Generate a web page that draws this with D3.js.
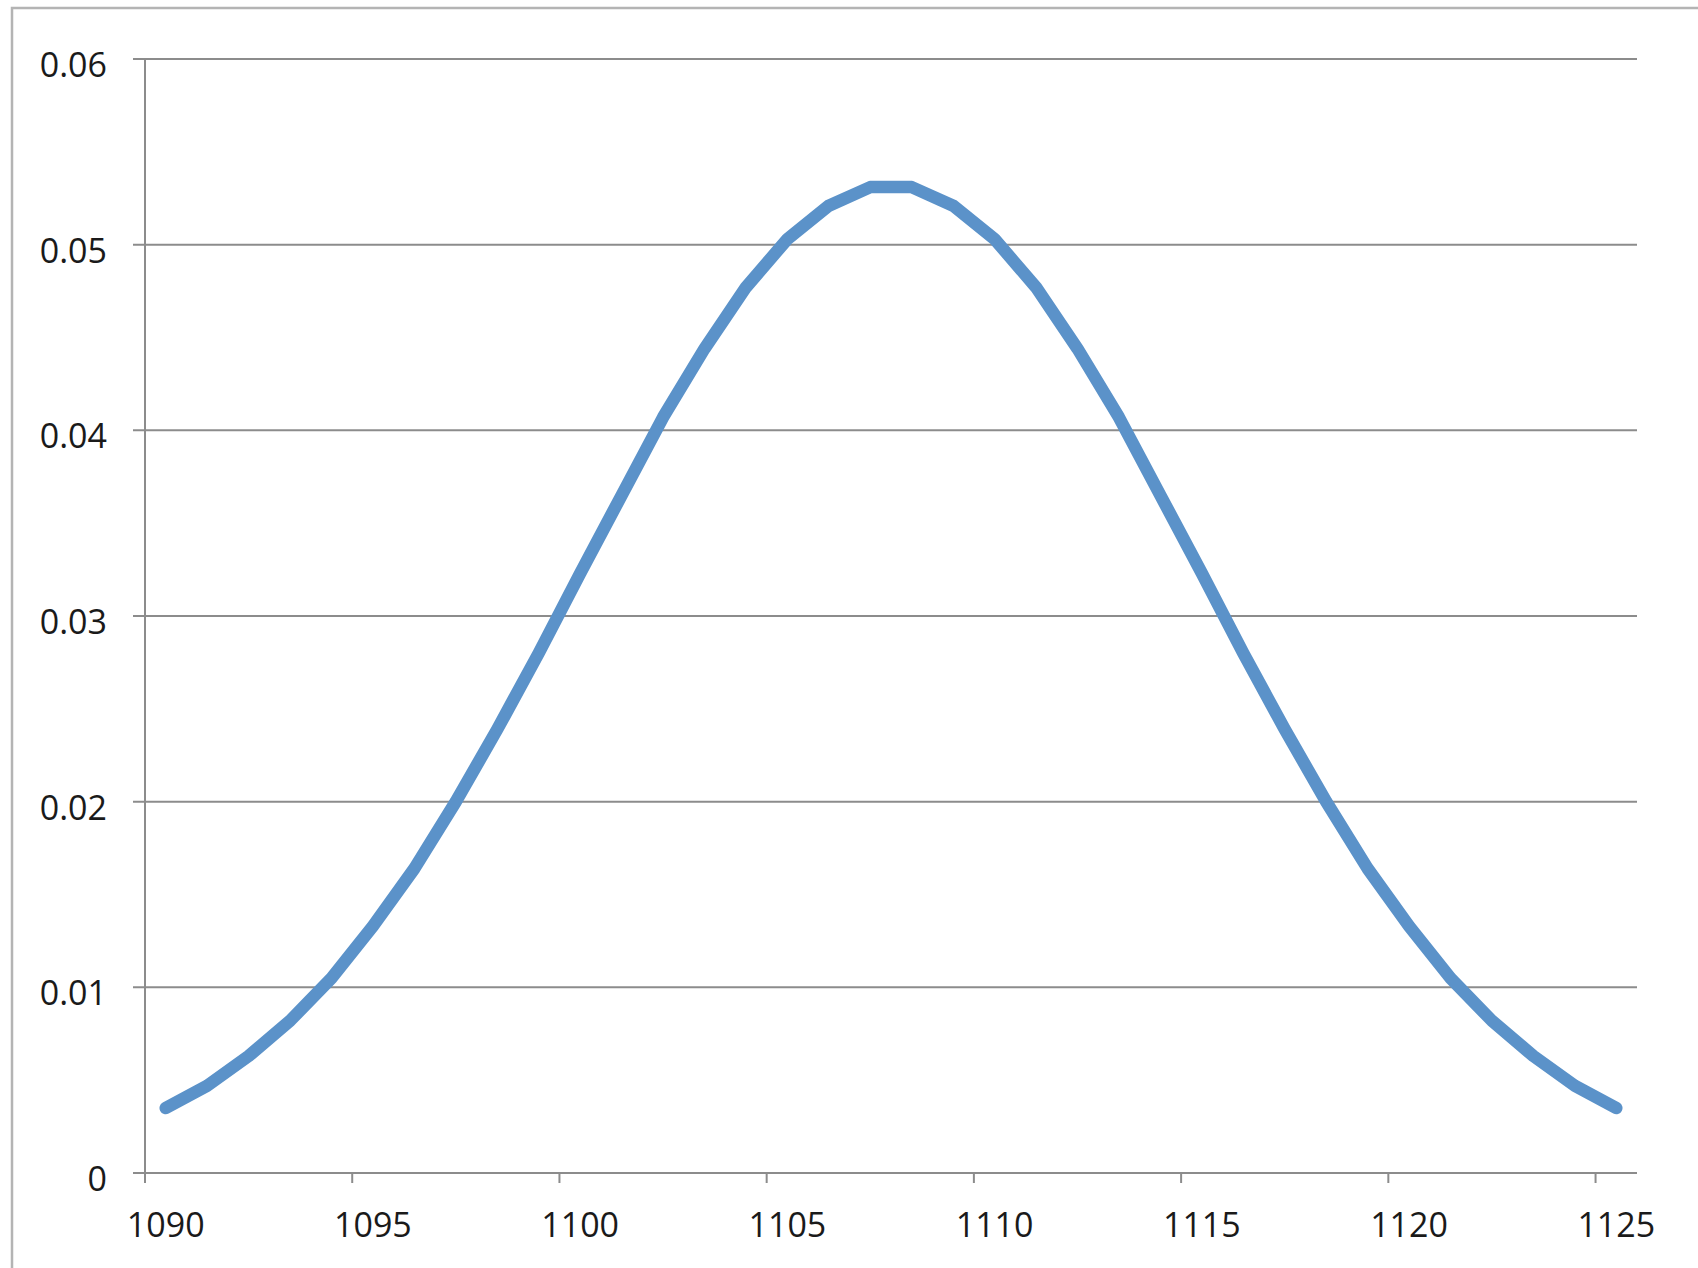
<!DOCTYPE html>
<html>
<head>
<meta charset="utf-8">
<script src="https://cdn.jsdelivr.net/npm/d3@7"></script>
<style>
body { margin: 0; background: #fff; }
</style>
</head>
<body>
<script>
//Catégories (abscisses) et valeurs de la courbe
var categories = [1090, 1091, 1092, 1093, 1094, 1095, 1096, 1097, 1098, 1099,
	1100, 1101, 1102, 1103, 1104, 1105, 1106, 1107, 1108, 1109,
	1110, 1111, 1112, 1113, 1114, 1115, 1116, 1117, 1118, 1119,
	1120, 1121, 1122, 1123, 1124, 1125];
var valeurs = [0.0035, 0.0047, 0.0063, 0.0082, 0.0105, 0.0133, 0.0164, 0.0200, 0.0239, 0.0280,
	0.0323, 0.0365, 0.0407, 0.0444, 0.0477, 0.0503, 0.0521, 0.0531, 0.0531, 0.0521,
	0.0503, 0.0477, 0.0444, 0.0407, 0.0365, 0.0323, 0.0280, 0.0239, 0.0200, 0.0164,
	0.0133, 0.0105, 0.0082, 0.0063, 0.0047, 0.0035];
var yTicks = [0, 0.01, 0.02, 0.03, 0.04, 0.05, 0.06];
var xLabels = [1090, 1095, 1100, 1105, 1110, 1115, 1120, 1125];

var larg = 1698;
var haut = 1268;
var gauche = 145, droite = 1637, haut0 = 59, bas = 1173;
var police = "'Open Sans', 'Liberation Sans', sans-serif";

var svg = d3.select("body")
	.append("svg")
	.attr("width", larg)
	.attr("height", haut);

//Cadre du graphique
svg.append("rect")
	.attr("x", 12)
	.attr("y", 8)
	.attr("width", larg)
	.attr("height", haut)
	.attr("fill", "none")
	.attr("stroke", "#b4b4b4")
	.attr("stroke-width", 2.5);

//Echelles
var x = d3.scaleBand()
	.domain(categories)
	.range([gauche, droite])
	.padding(0);
var y = d3.scaleLinear()
	.domain([0, 0.06])
	.range([bas, haut0]);

//Grille horizontale
svg.selectAll("line.grille")
	.data(yTicks)
	.enter()
	.append("line")
	.attr("class", "grille")
	.attr("x1", gauche - 12)
	.attr("x2", droite)
	.attr("y1", function(d) { return y(d); })
	.attr("y2", function(d) { return y(d); })
	.attr("stroke", "#8c8c8c")
	.attr("stroke-width", 2);

//Axe vertical
svg.append("line")
	.attr("x1", gauche)
	.attr("x2", gauche)
	.attr("y1", y(0.06))
	.attr("y2", bas + 10)
	.attr("stroke", "#8c8c8c")
	.attr("stroke-width", 2);

//Graduations de l'axe horizontal
svg.selectAll("line.tick")
	.data(xLabels)
	.enter()
	.append("line")
	.attr("class", "tick")
	.attr("x1", function(d) { return x(d); })
	.attr("x2", function(d) { return x(d); })
	.attr("y1", bas)
	.attr("y2", bas + 10)
	.attr("stroke", "#8c8c8c")
	.attr("stroke-width", 2);

//Libellés
svg.selectAll("text.ylab")
	.data(yTicks)
	.enter()
	.append("text")
	.attr("class", "ylab")
	.text(function(d) { return d === 0 ? "0" : d3.format(".2f")(d); })
	.attr("x", 107)
	.attr("y", function(d) { return y(d) + 18; })
	.attr("text-anchor", "end")
	.attr("font-family", police)
	.attr("font-size", "34px")
	.attr("fill", "#1a1a1a");

svg.selectAll("text.xlab")
	.data(xLabels)
	.enter()
	.append("text")
	.attr("class", "xlab")
	.text(function(d) { return d; })
	.attr("x", function(d) { return x(d) + x.bandwidth() / 2; })
	.attr("y", 1237)
	.attr("text-anchor", "middle")
	.attr("font-family", police)
	.attr("font-size", "34px")
	.attr("fill", "#1a1a1a");

//Courbe
var ligne = d3.line()
	.x(function(d, i) { return x(categories[i]) + x.bandwidth() / 2; })
	.y(function(d) { return y(d); });

svg.append("path")
	.datum(valeurs)
	.attr("d", ligne)
	.attr("fill", "none")
	.attr("stroke", "#5b92c9")
	.attr("stroke-width", 12.5)
	.attr("stroke-linecap", "round")
	.attr("stroke-linejoin", "round");
</script>
</body>
</html>
